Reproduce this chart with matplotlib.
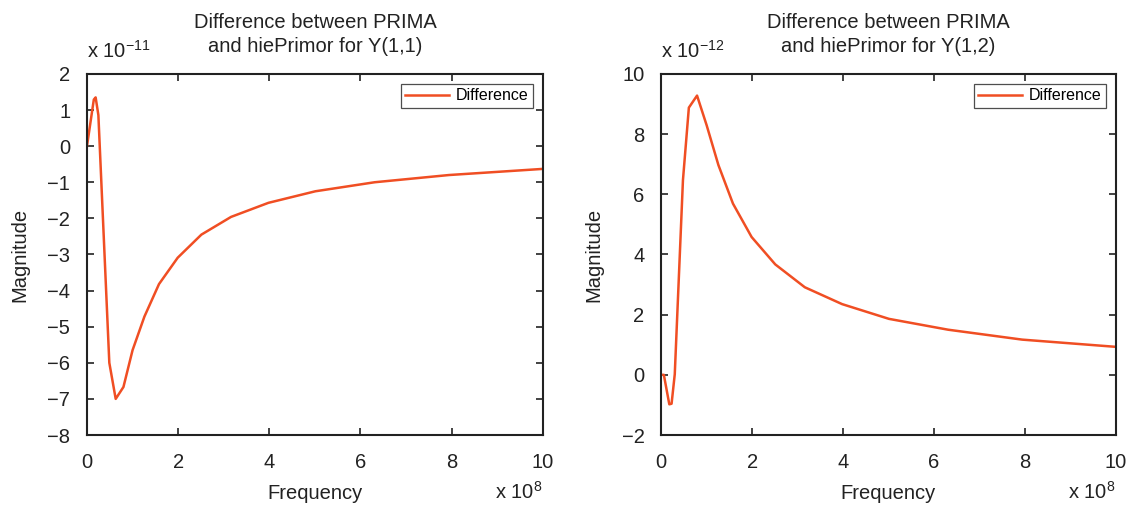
import numpy as np
import matplotlib.pyplot as plt

plt.rcParams['font.family'] = ['Liberation Sans', 'DejaVu Sans']
plt.rcParams['mathtext.fontset'] = 'custom'
plt.rcParams['mathtext.rm'] = 'Liberation Sans'
plt.rcParams['mathtext.default'] = 'rm'

# Y(1,1) difference, frequency in 1e8 Hz, magnitude in 1e-11
f11 = [0, 0.15, 0.19, 0.25, 0.49, 0.63, 0.80, 1.0, 1.26, 1.58, 1.99, 2.51, 3.16, 3.98, 5.01, 6.31, 7.94, 10.0]
d11 = [0, 1.29, 1.35, 0.86, -6.0, -7.0, -6.67, -5.65, -4.72, -3.82, -3.09, -2.45, -1.96, -1.57, -1.25, -1.0, -0.8, -0.63]

# Y(1,2) difference, frequency in 1e8 Hz, magnitude in 1e-12
f12 = [0, 0.06, 0.18, 0.23, 0.30, 0.48, 0.61, 0.79, 1.0, 1.26, 1.58, 1.99, 2.51, 3.16, 3.98, 5.01, 6.31, 7.94, 10.0]
d12 = [0, 0, -0.98, -0.96, 0.02, 6.47, 8.88, 9.28, 8.3, 6.97, 5.69, 4.58, 3.67, 2.91, 2.35, 1.86, 1.5, 1.17, 0.93]

color = "#f04e23"
txt = "#222222"
fs = 14.5
fig = plt.figure(figsize=(11.34, 5.05), dpi=100)
ax1 = fig.add_axes([0.0767, 0.1386, 0.402, 0.715])
ax2 = fig.add_axes([0.583, 0.1386, 0.401, 0.715])

panels = [
    (ax1, f11, d11, (-8, 2), range(-8, 3), "Y(1,1)", "x 10$^{\u2212 11}$"),
    (ax2, f12, d12, (-2, 10), range(-2, 11, 2), "Y(1,2)", "x 10$^{\u2212 12}$"),
]

for ax, f, d, ylim, yt, name, mult in panels:
    ax.plot(f, d, color=color, lw=1.8, label="Difference")
    ax.set_xlim(0, 10)
    ax.set_ylim(*ylim)
    ax.set_xticks(range(0, 11, 2))
    ax.set_yticks(list(yt))
    ax.tick_params(direction="in", top=True, right=True, labelsize=fs, length=5, width=1.2,
                   labelcolor=txt, color="#222222")
    ax.tick_params(axis="x", pad=13)
    ax.tick_params(axis="y", pad=12)
    for s in ax.spines.values():
        s.set_linewidth(1.5)
        s.set_color("#222222")
    ax.set_xlabel("Frequency", fontsize=fs, color=txt)
    ax.set_ylabel("Magnitude", fontsize=fs, color=txt)
    ax.xaxis.set_label_coords(0.5, -0.135)
    ax.yaxis.set_label_coords(-0.127, 0.5)
    ax.set_title("Difference between PRIMA\nand hiePrimor for " + name, fontsize=fs, pad=16,
                 linespacing=1.3, color=txt)
    ax.text(0.0, 1.044, mult, transform=ax.transAxes, fontsize=fs, ha="left", va="baseline", color=txt)
    ax.text(1.0, -0.177, "x 10$^8$", transform=ax.transAxes, fontsize=fs, ha="right", va="baseline", color=txt)
    leg = ax.legend(loc="upper right", fontsize=11.5, fancybox=False, edgecolor="#222222",
                    borderpad=0.3, handlelength=2.7, borderaxespad=0.6, handletextpad=0.45)
    leg.get_frame().set_linewidth(0.9)

plt.savefig("out.png", dpi=100)
